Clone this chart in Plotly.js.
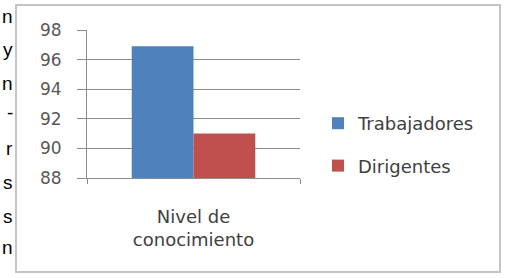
<!DOCTYPE html>
<html><head><meta charset="utf-8">
<script src="https://cdn.plot.ly/plotly-3.0.1.min.js"></script>
<style>
html,body{margin:0;padding:0;background:#fff;}
#wrap{position:relative;width:511px;height:278px;overflow:hidden;background:#fff;}
#frame{position:absolute;left:15px;top:4px;width:486px;height:269px;border:2px solid #c4c4c4;box-sizing:border-box;}
#chart{position:absolute;left:0;top:0;width:511px;height:278px;}
</style></head><body>
<div id="wrap"><div id="frame"></div><div id="chart"></div></div>
<script>
// Data
const categories = ["Nivel de<br>conocimiento"];
const seriesNames = ["Trabajadores", "Dirigentes"];
const trabajadores = [96.9];
const dirigentes = [91.0];
const yTickValues = [88, 90, 92, 94, 96, 98];
const sideLetters = ["n", "y", "n", "-", "r", "s", "s", "n"];

// Layout helpers (pixel geometry of the plot area)
const L = 87, R = 300, T = 30, B = 178;
const W = 511, H = 278;
const sideLetterY = [17, 50, 83, 112, 148, 182, 216, 247];

const traces = [
  {type: 'bar', x: categories, y: trabajadores, name: seriesNames[0],
   marker: {color: '#4F81BD'}, legendgroup: 'a', hoverinfo: 'skip'},
  {type: 'bar', x: categories, y: dirigentes, name: seriesNames[1],
   marker: {color: '#C0504D'}, legendgroup: 'b', hoverinfo: 'skip'}
];

const annotations = sideLetters.map((t, i) => ({
  text: t, xref: 'paper', yref: 'paper',
  x: (14 - L) / (R - L), y: (B - sideLetterY[i]) / (B - T),
  xanchor: 'right', yanchor: 'middle', showarrow: false, borderpad: 0,
  font: {family: 'Liberation Sans, Arial, sans-serif', size: 19, color: '#000'}
}));

const layout = {
  width: W, height: H,
  margin: {l: L, r: W - R, t: T, b: H - B, pad: 0},
  paper_bgcolor: 'rgba(0,0,0,0)', plot_bgcolor: 'rgba(0,0,0,0)',
  barmode: 'group', bargap: 0.42, bargroupgap: 0,
  font: {family: 'DejaVu Sans, Verdana, sans-serif', size: 16, color: '#404040'},
  xaxis: {
    type: 'category', tickson: 'boundaries', ticks: 'outside', ticklen: 5,
    tickcolor: '#8c8c8c', showline: true, linecolor: '#8c8c8c', linewidth: 1,
    showgrid: false, tickfont: {size: 18, color: '#404040'}, ticklabelstandoff: 22,
    fixedrange: true
  },
  yaxis: {
    range: [88, 98], tickvals: yTickValues, ticks: 'outside', ticklen: 9,
    tickcolor: '#8c8c8c', showline: true, linecolor: '#8c8c8c', linewidth: 1,
    gridcolor: '#8c8c8c', gridwidth: 1, zeroline: false,
    tickfont: {size: 17, color: '#595959'}, ticklabelstandoff: 12,
    fixedrange: true
  },
  legend: {
    x: (318 - L) / (R - L), y: (B - 105) / (B - T), xanchor: 'left', yanchor: 'top',
    traceorder: 'grouped', tracegroupgap: 16, bgcolor: 'rgba(0,0,0,0)',
    font: {size: 18, color: '#404040'}
  },
  showlegend: true,
  annotations: annotations
};

Plotly.newPlot('chart', traces, layout, {displayModeBar: false, staticPlot: true});
</script>
</body></html>
